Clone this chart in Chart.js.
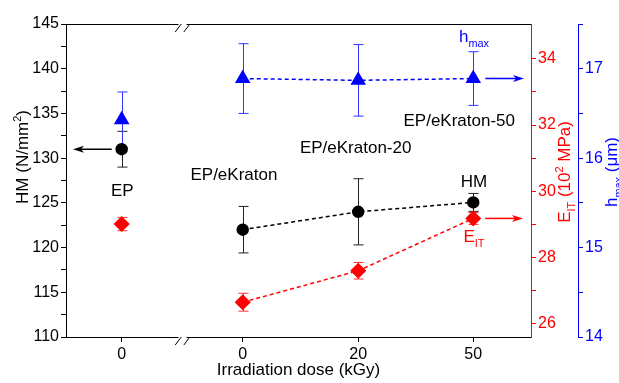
<!DOCTYPE html>
<html>
<head>
<meta charset="utf-8">
<script src="https://cdn.jsdelivr.net/npm/chart.js@4/dist/chart.umd.min.js"></script>
<style>
  html, body { margin: 0; padding: 0; background: #fff; }
  #wrap { width: 619px; height: 383px; position: relative; }
</style>
</head>
<body>
<div id="wrap"><canvas id="hmChart"></canvas></div>
<script>
// samples and dose labels on the broken x axis
const samples = ['EP', 'EP/eKraton', 'EP/eKraton-20', 'EP/eKraton-50'];
const doseLabels = ['0', '0', '20', '50'];
const xPos = [0, 1.048, 2.048, 3.044]; // positions along the broken axis
const xBreak = 0.527;

// HM (N/mm2), left axis
const hm = [131.0, 122.0, 124.0, 125.05];
const hmErr = [2.0, 2.6, 3.7, 1.0];
// E_IT (10^2 MPa), red axis
const eit = [29.01, 26.65, 27.6, 29.18];
const eitErr = [0.2, 0.27, 0.25, 0.18];
// h_max (um), blue axis
const hmax = [16.43, 16.89, 16.87, 16.89];
const hmaxErr = [0.31, 0.39, 0.4, 0.3];

const hmTicks = [110, 112.5, 115, 117.5, 120, 122.5, 125, 127.5, 130, 132.5, 135, 137.5, 140, 142.5, 145];
const eitTicks = [26, 27, 28, 29, 30, 31, 32, 33, 34];
const hmaxTicks = [14, 14.5, 15, 15.5, 16, 16.5, 17, 17.5];

const FONT = "'Liberation Sans', Arial, sans-serif";
const RED = '#ff0000';
const BLUE = '#0000ff';

// text with sub (1) / superscript (-1) pieces, centred on x,y
function richText(ctx, parts, x, y, size, color, rotate) {
    const small = size * 0.64;
    const widths = parts.map(([t, s]) => {
        ctx.font = `${s ? small : size}px ${FONT}`;
        return ctx.measureText(t).width;
    });
    const total = widths.reduce((a, b) => a + b, 0);
    ctx.save();
    ctx.translate(x, y);
    if (rotate) ctx.rotate(-Math.PI / 2);
    ctx.fillStyle = color;
    ctx.textAlign = 'left';
    ctx.textBaseline = 'alphabetic';
    const base = size * 0.358;
    let cx = -total / 2;
    parts.forEach(([t, s], i) => {
        ctx.font = `${s ? small : size}px ${FONT}`;
        const dy = s === 1 ? size * 0.3 : (s === -1 ? -size * 0.42 : 0);
        ctx.fillText(t, cx, base + dy);
        cx += widths[i];
    });
    ctx.restore();
}

function arrow(ctx, x1, y, x2, color) {
    const dir = Math.sign(x2 - x1);
    ctx.save();
    ctx.strokeStyle = color;
    ctx.fillStyle = color;
    ctx.lineWidth = 1.5;
    ctx.beginPath();
    ctx.moveTo(x1, y);
    ctx.lineTo(x2 - dir * 6, y);
    ctx.stroke();
    ctx.beginPath();
    ctx.moveTo(x2, y);
    ctx.lineTo(x2 - dir * 11, y - 3.5);
    ctx.lineTo(x2 - dir * 8, y);
    ctx.lineTo(x2 - dir * 11, y + 3.5);
    ctx.closePath();
    ctx.fill();
    ctx.restore();
}

function breakMark(ctx, x, y) {
    ctx.save();
    ctx.fillStyle = '#fff';
    ctx.fillRect(x - 4, y - 1.5, 8, 3);
    ctx.strokeStyle = '#000';
    ctx.lineWidth = 1;
    [-4.3, 4.3].forEach(dx => {
        ctx.beginPath();
        ctx.moveTo(x + dx - 3, y + 7.5);
        ctx.lineTo(x + dx + 3, y - 0.5);
        ctx.stroke();
    });
    ctx.restore();
}

// error bars under the markers
const errorBars = {
    id: 'errorBars',
    beforeDatasetsDraw(chart) {
        const ctx = chart.ctx;
        const x = chart.scales.x;
        const sets = [
            [hm, hmErr, chart.scales.yHM, '#222'],
            [eit, eitErr, chart.scales.yE, '#ff3333'],
            [hmax, hmaxErr, chart.scales.yH, '#3333ff']
        ];
        ctx.save();
        ctx.lineWidth = 1;
        sets.forEach(([vals, errs, ys, color]) => {
            ctx.strokeStyle = color;
            vals.forEach((v, i) => {
                const px = Math.round(x.getPixelForValue(xPos[i])) + 0.5;
                const top = ys.getPixelForValue(v + errs[i]);
                const bot = ys.getPixelForValue(v - errs[i]);
                ctx.beginPath();
                ctx.moveTo(px, top); ctx.lineTo(px, bot);
                ctx.moveTo(px - 5, top); ctx.lineTo(px + 5, top);
                ctx.moveTo(px - 5, bot); ctx.lineTo(px + 5, bot);
                ctx.stroke();
            });
        });
        ctx.restore();
    }
};

// frame, axis break, arrows, labels and axis titles
const decorations = {
    id: 'decorations',
    afterDraw(chart) {
        const ctx = chart.ctx;
        const area = chart.chartArea;
        const x = chart.scales.x;
        const yHM = chart.scales.yHM;
        const yE = chart.scales.yE;
        const yH = chart.scales.yH;

        ctx.save();
        ctx.strokeStyle = '#000';
        ctx.lineWidth = 1;
        ctx.beginPath();
        ctx.moveTo(area.left, area.top + 0.5);
        ctx.lineTo(area.right, area.top + 0.5);
        ctx.stroke();
        ctx.restore();

        const bx = x.getPixelForValue(xBreak);
        breakMark(ctx, bx, area.top + 0.5);
        breakMark(ctx, bx, area.bottom + 0.5);

        // arrows pointing at the matching axis
        arrow(ctx, x.getPixelForValue(xPos[0]) - 10, yHM.getPixelForValue(hm[0]), area.left + 7, '#000');
        arrow(ctx, x.getPixelForValue(xPos[3]) + 12, yH.getPixelForValue(hmax[3]), area.right - 7, BLUE);
        arrow(ctx, x.getPixelForValue(xPos[3]) + 12, yE.getPixelForValue(eit[3]), area.right - 8, RED);

        // sample names (placed in HM units)
        const namePos = [[0.005, 126.4], [0.972, 128.2], [2.026, 131.25], [2.923, 134.25]];
        samples.forEach((s, i) => {
            richText(ctx, [[s, 0]], x.getPixelForValue(namePos[i][0]), yHM.getPixelForValue(namePos[i][1]), 17, '#000');
        });
        richText(ctx, [['HM', 0]], x.getPixelForValue(3.05), yHM.getPixelForValue(127.45), 17, '#000');
        richText(ctx, [['E', 0], ['IT', 1]], x.getPixelForValue(3.05), yHM.getPixelForValue(121.3), 17, RED);
        richText(ctx, [['h', 0], ['max', 1]], x.getPixelForValue(3.05), yHM.getPixelForValue(143.7), 17, BLUE);

        // axis titles
        richText(ctx, [['HM (N/mm', 0], ['2', -1], [')', 0]], 22, 157, 17, '#000', true);
        richText(ctx, [['E', 0], ['IT', 1], [' (10', 0], ['2', -1], [' MPa)', 0]], 564, 172, 17, RED, true);
        richText(ctx, [['h', 0], ['max', 1], [' (\u03bcm)', 0]], 611, 172, 17, BLUE, true);
    }
};

function yAxis(position, min, max, tickList, color, width, labelIf, weight) {
    return {
        type: 'linear',
        position: position,
        weight: weight,
        min: min,
        max: max,
        afterBuildTicks: axis => { axis.ticks = tickList.map(v => ({ value: v })); },
        afterFit: axis => { axis.width = width; },
        border: { color: color, width: 1 },
        grid: { drawOnChartArea: false, color: color, tickLength: 5, tickWidth: 1 },
        ticks: {
            color: color,
            font: { family: FONT, size: 16 },
            padding: 2,
            autoSkip: false,
            callback: v => (labelIf(v) ? v : '')
        }
    };
}

const ctx = document.getElementById('hmChart').getContext('2d');
new Chart(ctx, {
    type: 'scatter',
    data: {
        datasets: [
            {
                label: 'HM',
                yAxisID: 'yHM',
                data: xPos.map((v, i) => ({ x: v, y: hm[i] })),
                showLine: true,
                borderColor: '#000',
                borderWidth: 1.5,
                borderDash: [4, 3],
                segment: { borderColor: c => (c.p0DataIndex === 0 ? 'rgba(0,0,0,0)' : '#000') },
                pointStyle: 'circle',
                pointRadius: 5.5,
                pointBackgroundColor: '#000',
                pointBorderColor: '#000'
            },
            {
                label: 'E_IT',
                yAxisID: 'yE',
                data: xPos.map((v, i) => ({ x: v, y: eit[i] })),
                showLine: true,
                borderColor: RED,
                borderWidth: 1.5,
                borderDash: [4, 3],
                segment: { borderColor: c => (c.p0DataIndex === 0 ? 'rgba(0,0,0,0)' : RED) },
                pointStyle: 'rectRot',
                pointRadius: 7,
                pointBackgroundColor: RED,
                pointBorderColor: RED
            },
            {
                label: 'h_max',
                yAxisID: 'yH',
                data: xPos.map((v, i) => ({ x: v, y: hmax[i] })),
                showLine: true,
                borderColor: BLUE,
                borderWidth: 1.5,
                borderDash: [4, 3],
                segment: { borderColor: c => (c.p0DataIndex === 0 ? 'rgba(0,0,0,0)' : BLUE) },
                pointStyle: 'triangle',
                pointRadius: 7.5,
                pointBackgroundColor: BLUE,
                pointBorderColor: BLUE
            }
        ]
    },
    options: {
        responsive: true,
        maintainAspectRatio: false,
        animation: false,
        layout: { padding: { top: 24, left: 0, right: 0, bottom: 0 } },
        plugins: { legend: { display: false }, tooltip: { enabled: false } },
        scales: {
            x: {
                type: 'linear',
                position: 'bottom',
                min: -0.482,
                max: 3.544,
                afterBuildTicks: axis => { axis.ticks = xPos.map(v => ({ value: v })); },
                afterFit: axis => { axis.height = 46; },
                border: { color: '#000', width: 1 },
                grid: { drawOnChartArea: false, color: '#000', tickLength: 5, tickWidth: 1 },
                ticks: {
                    color: '#000',
                    font: { family: FONT, size: 16 },
                    padding: 3,
                    autoSkip: false,
                    maxRotation: 0,
                    callback: (v, i) => doseLabels[i]
                },
                title: {
                    display: true,
                    text: 'Irradiation dose (kGy)',
                    color: '#000',
                    font: { family: FONT, size: 17 },
                    padding: { top: 0, bottom: 2 }
                }
            },
            yHM: yAxis('left', 110, 145, hmTicks, '#000', 66, v => v % 5 === 0, 0),
            yE: yAxis('right', 25.6, 35.05, eitTicks, RED, 47, v => v % 2 === 0, 0),
            yH: yAxis('right', 14, 17.5, hmaxTicks, BLUE, 41, v => Number.isInteger(v), 1)
        }
    },
    plugins: [errorBars, decorations]
});
</script>
</body>
</html>
